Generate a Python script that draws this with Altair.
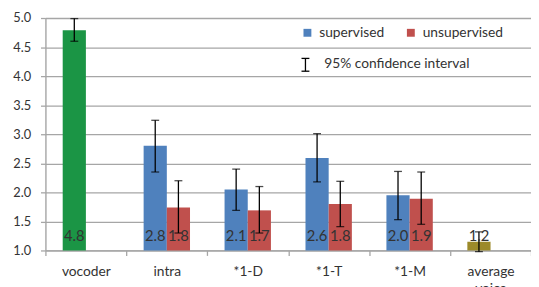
import altair as alt
import pandas as pd

categories = ["vocoder", "intra", "*1-D", "*1-T", "*1-M", "average voice"]
series = ["supervised", "unsupervised"]

bar_category = ["vocoder", "intra", "intra", "*1-D", "*1-D", "*1-T", "*1-T", "*1-M", "*1-M", "average voice"]
bar_series = ["supervised", "supervised", "unsupervised", "supervised", "unsupervised",
              "supervised", "unsupervised", "supervised", "unsupervised", "supervised"]
bar_group = ["vocoder", "supervised", "unsupervised", "supervised", "unsupervised",
             "supervised", "unsupervised", "supervised", "unsupervised", "average"]
bar_value = [4.79, 2.80, 1.74, 2.05, 1.69, 2.59, 1.80, 1.95, 1.89, 1.15]
ci_low = [4.60, 2.35, 1.30, 1.69, 1.30, 2.18, 1.41, 1.53, 1.45, 0.98]
ci_high = [4.99, 3.24, 2.20, 2.40, 2.10, 3.01, 2.19, 2.36, 2.35, 1.32]
bar_label = ["4.8", "2.8", "1.8", "2.1", "1.7", "2.6", "1.8", "2.0", "1.9", "1.2"]
y_ticks = [1.0, 1.5, 2.0, 2.5, 3.0, 3.5, 4.0, 4.5, 5.0]

group_domain = ["supervised", "unsupervised", "vocoder", "average"]
group_colors = ["#4F81BD", "#C0504D", "#1B9545", "#9C8A2A"]

df = pd.DataFrame({
    "category": bar_category,
    "series": bar_series,
    "group": bar_group,
    "value": bar_value,
    "lo": ci_low,
    "hi": ci_high,
    "label": bar_label,
})

FONT = "Lato"
GRID = "#A6A6A6"
TXT = "#333333"
W, H = 493, 236

x_axis = alt.Axis(
    title=None, labelAngle=0, labelExpr="split(datum.label, ' ')",
    tickBand="extent", tickSize=5, tickColor=GRID, tickWidth=1.3,
    domainColor=GRID, domainWidth=1.3, labelFontSize=14, labelColor=TXT,
    labelFont=FONT, labelPadding=9, labelLineHeight=18,
)
y_axis = alt.Axis(
    title=None, values=y_ticks, format=".1f", labelOverlap=False,
    grid=True, gridColor=GRID, gridWidth=1.3, domainColor=GRID, domainWidth=1.3,
    tickColor=GRID, tickSize=5, tickWidth=1.3, labelFontSize=13, labelColor=TXT,
    labelFont=FONT, labelPadding=10,
)
x_scale = alt.Scale(domain=categories, paddingInner=0, paddingOuter=0)
y_scale = alt.Scale(domain=[1, 5], nice=False, zero=False)
xo_scale = alt.Scale(domain=series, paddingInner=0, paddingOuter=0.745)


def X():
    return alt.X("category:N", sort=categories, scale=x_scale, axis=x_axis)


def XO():
    return alt.XOffset("series:N", scale=xo_scale)


def Y(field):
    return alt.Y(field, scale=y_scale, axis=y_axis)


base = alt.Chart(df)

bars = base.mark_bar().encode(
    x=X(),
    xOffset=XO(),
    y=Y("value:Q"),
    y2=alt.datum(1),
    color=alt.Color(
        "group:N",
        scale=alt.Scale(domain=group_domain, range=group_colors),
        legend=alt.Legend(
            title=None, values=["supervised", "unsupervised"], orient="none",
            legendX=259, legendY=8, direction="horizontal", columns=2,
            symbolType="square", symbolSize=64, symbolStrokeWidth=0,
            labelFontSize=14, labelFont=FONT, labelColor=TXT, labelOffset=5,
            columnPadding=19, padding=0,
        ),
    ),
)

err = base.mark_rule(color="black", strokeWidth=1.3).encode(
    x=X(), xOffset=XO(), y=Y("lo:Q"), y2="hi:Q",
)
cap_hi = base.mark_tick(color="black", thickness=1.3, size=8).encode(
    x=X(), xOffset=XO(), y=Y("hi:Q"),
)
cap_lo = base.mark_tick(color="black", thickness=1.3, size=8).encode(
    x=X(), xOffset=XO(), y=Y("lo:Q"),
)
labels = base.mark_text(fontSize=15, font=FONT, color=TXT, baseline="alphabetic").encode(
    x=X(), xOffset=XO(), y=alt.value(226), text="label:N",
)

one = pd.DataFrame({"k": [0]})
leg_rule = alt.Chart(one).mark_rule(color="black", strokeWidth=1.3).encode(
    x=alt.value(264), y=alt.value(41), y2=alt.value(54)
)
leg_cap1 = alt.Chart(one).mark_rule(color="black", strokeWidth=1.3).encode(
    x=alt.value(260), x2=alt.value(268), y=alt.value(41)
)
leg_cap2 = alt.Chart(one).mark_rule(color="black", strokeWidth=1.3).encode(
    x=alt.value(260), x2=alt.value(268), y=alt.value(54)
)
leg_text = alt.Chart(one).mark_text(
    align="left", baseline="middle", fontSize=14, font=FONT, color=TXT
).encode(x=alt.value(283), y=alt.value(47), text=alt.value("95% confidence interval"))

chart = alt.layer(
    bars, err, cap_hi, cap_lo, labels, leg_rule, leg_cap1, leg_cap2, leg_text
).properties(
    width=W, height=H,
    autosize=alt.AutoSizeParams(type="none"),
    padding={"left": 38, "top": 8, "right": 0, "bottom": 40},
).configure_view(stroke=None).configure(background="white")

chart.save("out.html", embed_options={"renderer": "svg", "actions": False})
